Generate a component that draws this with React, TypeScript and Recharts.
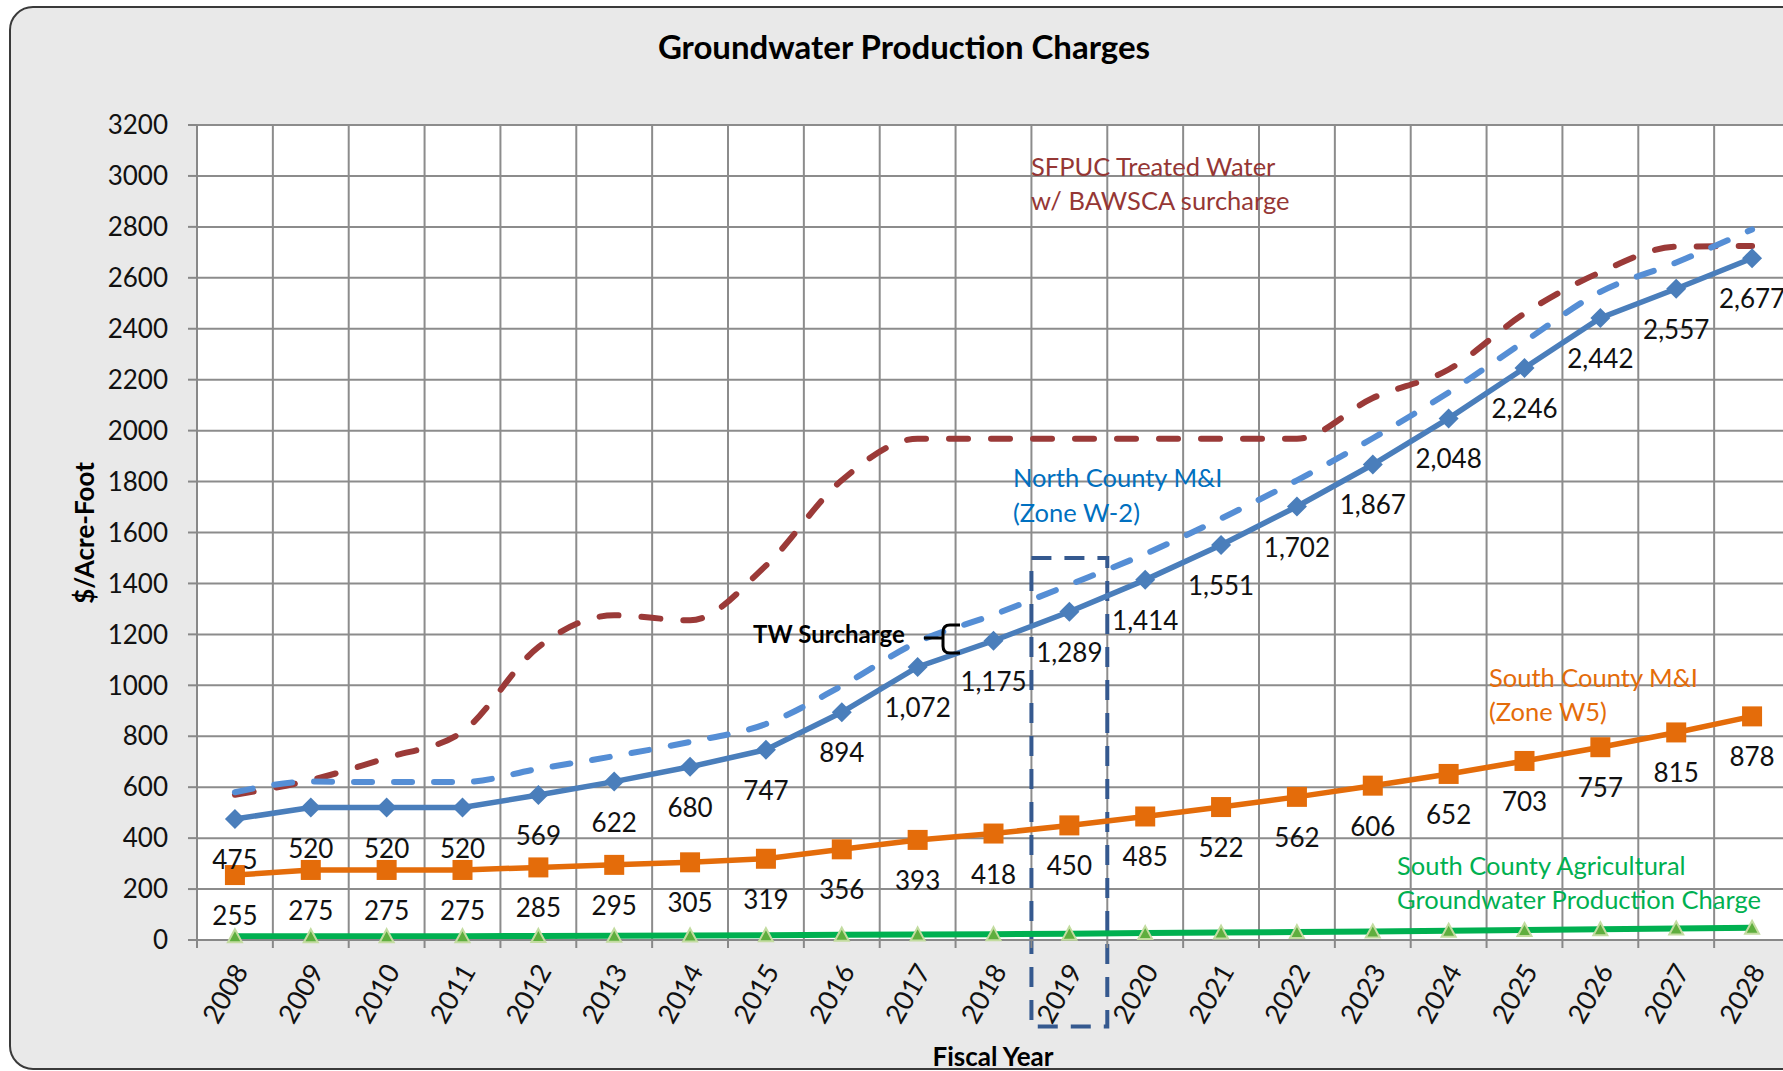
import React from "react";
import {
  LineChart,
  Line,
  XAxis,
  YAxis,
  CartesianGrid,
  ReferenceArea,
  LabelList
} from "recharts";

const years = [2008, 2009, 2010, 2011, 2012, 2013, 2014, 2015, 2016, 2017, 2018, 2019, 2020, 2021, 2022, 2023, 2024, 2025, 2026, 2027, 2028];
const northCounty = [475, 520, 520, 520, 569, 622, 680, 747, 894, 1072, 1175, 1289, 1414, 1551, 1702, 1867, 2048, 2246, 2442, 2557, 2677];
const northWithSurcharge = [580, 622, 620, 620, 672, 722, 778, 848, 998, 1170, 1277, 1395, 1516, 1655, 1805, 1970, 2150, 2350, 2545, 2660, 2790];
const sfpuc = [570, 628, 715, 818, 1150, 1275, 1255, 1470, 1805, 1968, 1968, 1968, 1968, 1968, 1968, 2128, 2240, 2460, 2622, 2722, 2725];
const southCounty = [255, 275, 275, 275, 285, 295, 305, 319, 356, 393, 418, 450, 485, 522, 562, 606, 652, 703, 757, 815, 878];
const southAg = [15, 15, 15, 15, 16, 17, 18, 19, 21, 22, 23, 25, 27, 29, 31, 33, 36, 39, 42, 45, 48];
const yTicks = [0, 200, 400, 600, 800, 1000, 1200, 1400, 1600, 1800, 2000, 2200, 2400, 2600, 2800, 3000, 3200];

const data = years.map((year, i) => ({
  year,
  north: northCounty[i],
  northTW: northWithSurcharge[i],
  sfpuc: sfpuc[i],
  south: southCounty[i],
  ag: southAg[i]
}));

// layout
const W = 1800;
const H = 1071;
const PLOT_LEFT = 197;
const PLOT_RIGHT = 1790;
const PLOT_TOP = 125;
const PLOT_BOTTOM = 940;
const BAND = (PLOT_RIGHT - PLOT_LEFT) / years.length;
const FONT = "Lato, 'Open Sans', sans-serif";

const gridX = Array.from({ length: years.length + 1 }, (_, i) => PLOT_LEFT + i * BAND);

const Diamond = (p: any) => {
  const { cx, cy } = p;
  if (cx == null || cy == null) return <g key={p.index} />;
  const s = 10;
  return (
    <polygon
      key={p.index}
      points={`${cx},${cy - s} ${cx + s},${cy} ${cx},${cy + s} ${cx - s},${cy}`}
      fill="#4a7ebb"
    />
  );
};

const Square = (p: any) => {
  const { cx, cy } = p;
  if (cx == null || cy == null) return <g key={p.index} />;
  return <rect key={p.index} x={cx - 10} y={cy - 10} width={20} height={20} fill="#e46c0a" />;
};

const Triangle = (p: any) => {
  const { cx, cy } = p;
  if (cx == null || cy == null) return <g key={p.index} />;
  return (
    <polygon
      key={p.index}
      points={`${cx},${cy - 7} ${cx + 7},${cy + 6} ${cx - 7},${cy + 6}`}
      fill="#5fae3e"
      stroke="#c3dca0"
      strokeWidth={2}
    />
  );
};

const belowLabel = (p: any) => {
  const { x, y, value } = p;
  return (
    <text
      x={x}
      y={y + 40}
      textAnchor="middle"
      dominantBaseline="central"
      fontFamily={FONT}
      fontSize={26}
      fill="#111"
    >
      {Number(value).toLocaleString("en-US")}
    </text>
  );
};

const YearTick = (p: any) => {
  const { x, y, payload, index } = p;
  const last = index === years.length - 1;
  return (
    <g>
      <line x1={x - BAND / 2} x2={x - BAND / 2} y1={y} y2={y + 8} stroke="#888" strokeWidth={2} />
      {last && <line x1={x + BAND / 2} x2={x + BAND / 2} y1={y} y2={y + 8} stroke="#888" strokeWidth={2} />}
      <text
        x={x + 5}
        y={y + 26}
        transform={`rotate(-60, ${x + 5}, ${y + 26})`}
        textAnchor="end"
        dominantBaseline="central"
        fontFamily={FONT}
        fontSize={27}
        fill="#111"
      >
        {payload.value}
      </text>
    </g>
  );
};

export default function App() {
  return (
    <div
      style={{
        position: "fixed",
        left: 0,
        top: 0,
        width: 1783,
        height: 1071,
        overflow: "hidden",
        background: "#fff"
      }}
    >
      {/* rounded frame */}
      <div
        style={{
          position: "absolute",
          left: 9,
          top: 6,
          width: 1820,
          height: 1060,
          border: "2.5px solid #3a3a3a",
          borderRadius: 24,
          background: "#e9e9e9"
        }}
      />

      <div style={{ position: "absolute", left: 0, top: 0 }}>
        <LineChart
          width={W}
          height={H}
          data={data}
          margin={{ top: PLOT_TOP, left: PLOT_LEFT - 60, right: W - PLOT_RIGHT, bottom: H - PLOT_BOTTOM - 60 }}
        >
          <CartesianGrid
            fill="#fff"
            stroke="#8c8c8c"
            strokeWidth={2}
            verticalPoints={gridX}
          />
          <XAxis
            dataKey="year"
            type="number"
            domain={[2007.5, 2028.5]}
            ticks={years}
            interval={0}
            height={60}
            tickSize={0}
            tickMargin={0}
            tick={<YearTick />}
            axisLine={{ stroke: "#888", strokeWidth: 2 }}
          />
          <YAxis
            width={60}
            domain={[0, 3200]}
            ticks={yTicks}
            interval={0}
            tickSize={9}
            tickMargin={20}
            tick={{ fontFamily: FONT, fontSize: 26, fill: "#111" }}
            tickLine={{ stroke: "#888", strokeWidth: 2 }}
            axisLine={{ stroke: "#888", strokeWidth: 2 }}
          />

          <ReferenceArea
            x1={2018.5}
            x2={2019.5}
            y1={-340}
            y2={1500}
            ifOverflow="visible"
            fill="none"
            fillOpacity={0}
            stroke="#35598f"
            strokeWidth={4}
            strokeDasharray="20 13"
          />

          {/* South County Agricultural */}
          <Line
            dataKey="ag"
            type="linear"
            stroke="#00b050"
            strokeWidth={6}
            dot={Triangle}
            activeDot={false}
            isAnimationActive={false}
          />

          {/* South County M&I */}
          <Line
            dataKey="south"
            type="linear"
            stroke="#e46c0a"
            strokeWidth={5.5}
            dot={Square}
            activeDot={false}
            isAnimationActive={false}
          >
            <LabelList dataKey="south" content={belowLabel} />
          </Line>

          {/* SFPUC treated water */}
          <Line
            dataKey="sfpuc"
            type="monotone"
            stroke="#9b3a38"
            strokeWidth={6}
            strokeDasharray="19 23"
            strokeLinecap="round"
            dot={false}
            activeDot={false}
            isAnimationActive={false}
          />

          {/* North County + TW surcharge */}
          <Line
            dataKey="northTW"
            type="monotone"
            stroke="#558ed5"
            strokeWidth={6}
            strokeDasharray="18 22"
            strokeLinecap="round"
            dot={false}
            activeDot={false}
            isAnimationActive={false}
          />

          {/* North County M&I */}
          <Line
            dataKey="north"
            type="linear"
            stroke="#4a7ebb"
            strokeWidth={5.5}
            dot={Diamond}
            activeDot={false}
            isAnimationActive={false}
          >
            <LabelList dataKey="north" content={belowLabel} />
          </Line>
        </LineChart>
      </div>

      {/* titles and annotations */}
      <svg
        width={1783}
        height={1071}
        style={{ position: "absolute", left: 0, top: 0, pointerEvents: "none" }}
        fontFamily={FONT}
      >
        <text x={904} y={46} textAnchor="middle" dominantBaseline="central" fontSize={33} fontWeight={700} fill="#000">
          Groundwater Production Charges
        </text>
        <text
          x={84}
          y={533}
          transform="rotate(-90, 84, 533)"
          textAnchor="middle"
          dominantBaseline="central"
          fontSize={26}
          fontWeight={700}
          fill="#000"
        >
          $/Acre-Foot
        </text>
        <text x={993} y={1056} textAnchor="middle" dominantBaseline="central" fontSize={26} fontWeight={700} fill="#000">
          Fiscal Year
        </text>

        <g fontSize={25.5} dominantBaseline="central">
          <text x={1031} y={166} fill="#953735">SFPUC Treated Water</text>
          <text x={1031} y={200} fill="#953735">w/ BAWSCA surcharge</text>
          <text x={1013} y={477} fill="#0070c0">North County M&amp;I</text>
          <text x={1013} y={512} fill="#0070c0">(Zone W-2)</text>
          <text x={1489} y={677} fill="#e46c0a">South County M&amp;I</text>
          <text x={1489} y={711} fill="#e46c0a">(Zone W5)</text>
          <text x={1397} y={865} fill="#00b050">South County Agricultural</text>
          <text x={1397} y={899} fill="#00b050">Groundwater Production Charge</text>
        </g>

        <text x={753} y={633} dominantBaseline="central" fontSize={24} fontWeight={700} fill="#000">
          TW Surcharge
        </text>
        <path
          d="M 960 625 L 950 625 Q 943 625 943 632 L 943 638 L 924 638 M 943 638 L 943 646 Q 943 653 950 653 L 960 653"
          fill="none"
          stroke="#000"
          strokeWidth={3}
        />
      </svg>
    </div>
  );
}
